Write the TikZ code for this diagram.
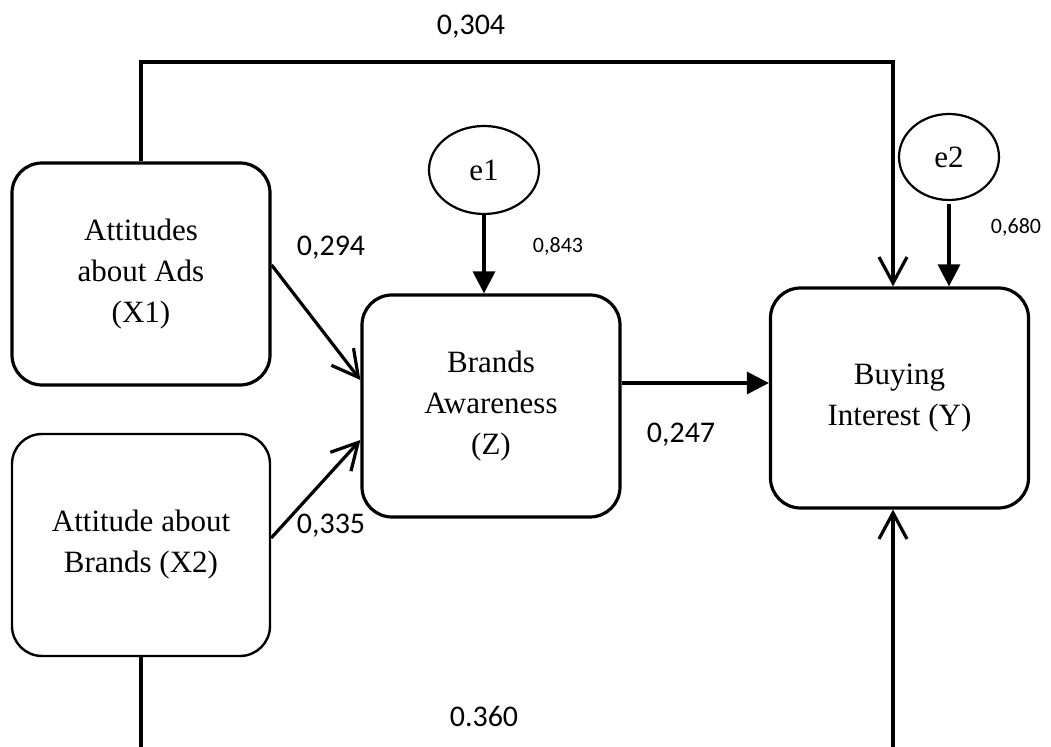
\documentclass[tikz,border=0pt]{standalone}
\usepackage{fontspec}
\setmainfont{Liberation Serif}
\newfontfamily\numfont{Carlito}
\usetikzlibrary{arrows.meta,shapes.geometric}
\tikzset{
  varbox/.style={draw, line width=1.6pt, rounded corners=15pt, align=center,
    minimum width=129pt, minimum height=111pt, inner sep=0pt,
    font=\fontsize{15.5}{20.5}\selectfont},
  errnode/.style={draw, ellipse, line width=1.1pt, inner sep=0pt,
    font=\fontsize{15.5}{18}\selectfont},
  coef/.style={font=\numfont\fontsize{15}{18}\selectfont},
  smallcoef/.style={font=\numfont\fontsize{11}{13}\selectfont},
  openarr/.style={line width=1.6pt, -{Straight Barb[length=13pt,width=14pt]}},
  fillarr/.style={line width=1.6pt, -{Triangle[length=11pt,width=11pt]}},
  plainline/.style={line width=1.6pt}
}
\begin{document}
\begin{tikzpicture}[x=0.5pt,y=-0.5pt]
  \useasboundingbox (0,0) rectangle (1051,747);

  % variables
  \node[varbox] (x1) at (141,274) {Attitudes\\about Ads\\(X1)};
  \node[varbox, line width=1.2pt] (x2) at (141,545) {Attitude about\\Brands (X2)};
  \node[varbox] (z) at (491,406) {Brands\\Awareness\\(Z)};
  \node[varbox, minimum height=110pt] (yv) at (899.5,398) {Buying\\Interest (Y)};

  % error terms
  \node[errnode, minimum width=55pt, minimum height=44pt] (e1) at (484,170) {e1};
  \node[errnode, minimum width=50pt, minimum height=43pt] (e2) at (949,157) {e2};

  % helper points for the long paths
  \coordinate (toppath) at (893,62);
  \coordinate (botleft) at (141,747);
  \coordinate (botright) at (893,747);

  % paths
  \draw[openarr] (x1.north) |- (toppath) -- (toppath |- yv.north);
  \draw[plainline] (x2.south) -- (botleft);
  \draw[openarr] (botright) -- (botright |- yv.south);
  \draw[openarr] ([yshift=4.5pt]x1.east) -- ([yshift=13pt]z.west);
  \draw[openarr] ([yshift=3.5pt]x2.east) -- ([yshift=-17pt]z.west);
  \draw[fillarr] ([yshift=11.5pt]z.east) -- ([yshift=11.5pt]z.east -| yv.west);
  \draw[fillarr] (e1.south) -- (e1.south |- z.north);
  \draw[fillarr] ([yshift=-1.5pt]e2.south) -- (e2.south |- yv.north);

  % coefficients
  \node[coef] (c304) at (471,27) {0,304};
  \node[coef] (c294) at (331,248) {0,294};
  \node[smallcoef] (c843) at (558,246) {0,843};
  \node[smallcoef] (c680) at (1016,227) {0,680};
  \node[coef] (c247) at (681,435) {0,247};
  \node[coef] (c335) at (331,526) {0,335};
  \node[coef] (c360) at (484,716) {0.360};
\end{tikzpicture}
\end{document}
